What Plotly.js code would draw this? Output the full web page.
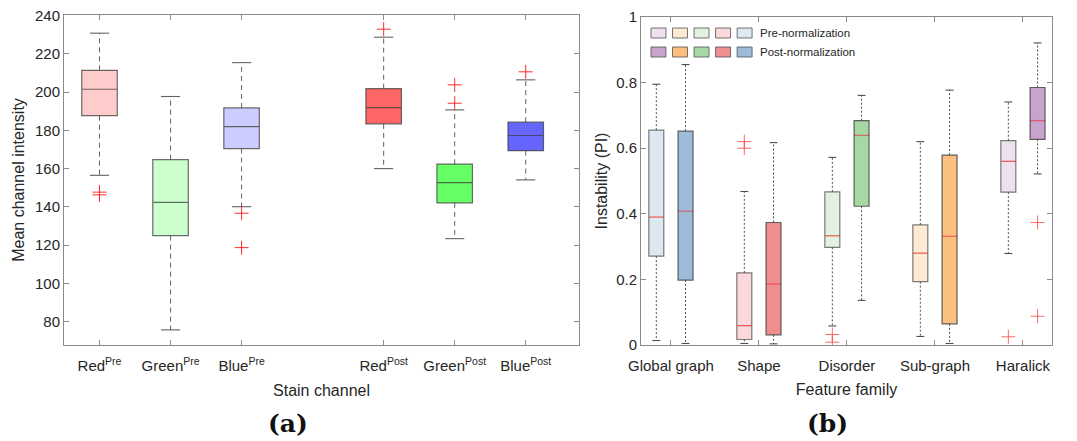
<!DOCTYPE html>
<html>
<head>
<meta charset="utf-8">
<script src="https://cdn.plot.ly/plotly-3.0.1.min.js"></script>
<style>html,body{margin:0;padding:0;background:#fff;}#chart{width:1077px;height:441px;}</style>
</head>
<body>
<div id="chart"></div>
<script>
// ---------- Panel (a): stain channel intensities ----------
const leftCats = ['Red<sup>Pre</sup>','Green<sup>Pre</sup>','Blue<sup>Pre</sup>','Red<sup>Post</sup>','Green<sup>Post</sup>','Blue<sup>Post</sup>'];
const leftPos = [1, 2, 3, 5, 6, 7];
const leftUpper = [230.8, 197.7, 215.4, 228.7, 190.7, 206.4];
const leftQ3    = [211.4, 164.7, 191.7, 201.8, 162.3, 184.3];
const leftMed   = [201.5, 142.4, 182.0, 191.9, 152.7, 177.3];
const leftQ1    = [187.7, 125.0, 170.5, 183.4, 142.1, 169.4];
const leftLower = [156.5, 75.7, 140.1, 160.0, 123.4, 154.1];
const leftOutliers = [[147.7, 146.3], [], [136.7, 118.7], [232.9], [203.8, 194.2], [210.6]];
const leftColors = ['#ffcccc', '#ccffcc', '#ccccff', '#ff6666', '#66ff66', '#6666ff'];

// ---------- Panel (b): feature instability ----------
const rightCats = ['Global graph', 'Shape', 'Disorder', 'Sub-graph', 'Haralick'];
const rightPos = [1, 2, 3, 4, 5];
const preUpper = [0.795, 0.468, 0.572, 0.620, 0.741];
const preQ3    = [0.655, 0.220, 0.467, 0.3665, 0.623];
const preMed   = [0.390, 0.059, 0.333, 0.280, 0.560];
const preQ1    = [0.271, 0.0167, 0.2975, 0.193, 0.466];
const preLower = [0.0137, 0.0046, 0.058, 0.026, 0.279];
const preOutliers = [[], [0.620, 0.600], [0.032, 0.0085], [], [0.025]];
const postUpper = [0.855, 0.617, 0.761, 0.777, 0.921];
const postQ3    = [0.652, 0.3735, 0.684, 0.579, 0.785];
const postMed   = [0.408, 0.186, 0.639, 0.331, 0.684];
const postQ1    = [0.198, 0.031, 0.423, 0.0645, 0.627];
const postLower = [0.0046, 0.0035, 0.136, 0.0046, 0.5216];
const postOutliers = [[], [], [], [], [0.3735, 0.0876]];
const preColors  = ['#dde8f2', '#fad8db', '#e3f2e0', '#fdead3', '#eee0ee'];
const postColors = ['#9dbcd9', '#ef8e8e', '#a7d7a2', '#fdbf80', '#c9a2cd'];
// legend order (as in the figure): Haralick, Sub-graph, Disorder, Shape, Global graph
const legendOrder = [4, 3, 2, 1, 0];
const legendLabels = ['Pre-normalization', 'Post-normalization'];

const FONT = 'Liberation Sans, Arial, Helvetica, sans-serif';
const TXT = '#262626';
const AX = '#8a8a8a';

const traces = [];

function addBoxes(pos, q1, med, q3, colors, width, lineColor, xa, ya) {
  pos.forEach((p, i) => {
    traces.push({
      type: 'box', x: [p], q1: [q1[i]], median: [med[i]], q3: [q3[i]],
      lowerfence: [q1[i]], upperfence: [q3[i]],
      width: width, whiskerwidth: 0, fillcolor: colors[i],
      line: {color: lineColor, width: 1.2},
      xaxis: xa, yaxis: ya, hoverinfo: 'skip', showlegend: false
    });
  });
}
function addWhiskers(pos, q1, q3, lower, upper, capHalf, dash, color, xa, ya) {
  const wx = [], wy = [], cx = [], cy = [];
  pos.forEach((p, i) => {
    wx.push(p, p, null, p, p, null);
    wy.push(q3[i], upper[i], null, q1[i], lower[i], null);
    cx.push(p - capHalf, p + capHalf, null, p - capHalf, p + capHalf, null);
    cy.push(upper[i], upper[i], null, lower[i], lower[i], null);
  });
  traces.push({type: 'scatter', mode: 'lines', x: wx, y: wy, line: {color: color, width: 1, dash: dash},
    xaxis: xa, yaxis: ya, hoverinfo: 'skip', showlegend: false});
  traces.push({type: 'scatter', mode: 'lines', x: cx, y: cy, line: {color: color, width: 1.1},
    xaxis: xa, yaxis: ya, hoverinfo: 'skip', showlegend: false});
}
function addMedians(pos, med, half, colors, redColor, xa, ya) {
  // first cover the box's own grey median with the fill colour, then the red line
  pos.forEach((p, i) => {
    traces.push({type: 'scatter', mode: 'lines', x: [p - half * 0.92, p + half * 0.92], y: [med[i], med[i]],
      line: {color: colors[i], width: 2.4}, xaxis: xa, yaxis: ya, hoverinfo: 'skip', showlegend: false});
  });
  const mx = [], my = [];
  pos.forEach((p, i) => { mx.push(p - half, p + half, null); my.push(med[i], med[i], null); });
  traces.push({type: 'scatter', mode: 'lines', x: mx, y: my, line: {color: redColor, width: 1.2},
    xaxis: xa, yaxis: ya, hoverinfo: 'skip', showlegend: false});
}
function addOutliers(pos, outs, color, size, xa, ya) {
  const ox = [], oy = [];
  pos.forEach((p, i) => outs[i].forEach(v => { ox.push(p); oy.push(v); }));
  traces.push({type: 'scatter', mode: 'markers', x: ox, y: oy,
    marker: {symbol: 'cross-thin-open', size: size, color: color, line: {color: color, width: 1}},
    xaxis: xa, yaxis: ya, hoverinfo: 'skip', showlegend: false});
}

// panel (a)
addWhiskers(leftPos, leftQ1, leftQ3, leftLower, leftUpper, 0.135, '5px,4px', 'rgba(70,70,70,0.85)', 'x', 'y');
addBoxes(leftPos, leftQ1, leftMed, leftQ3, leftColors, 0.5, 'rgba(60,60,60,0.75)', 'x', 'y');
addOutliers(leftPos, leftOutliers, '#ff2a2a', 10, 'x', 'y');

// panel (b)
const off = 0.166;
const prePos = rightPos.map(p => p - off);
const postPos = rightPos.map(p => p + off);
addWhiskers(prePos, preQ1, preQ3, preLower, preUpper, 0.045, '2px,2px', 'rgba(60,60,60,0.9)', 'x2', 'y2');
addWhiskers(postPos, postQ1, postQ3, postLower, postUpper, 0.045, '2px,2px', 'rgba(60,60,60,0.9)', 'x2', 'y2');
addBoxes(prePos, preQ1, preMed, preQ3, preColors, 0.17, 'rgba(90,90,90,0.8)', 'x2', 'y2');
addBoxes(postPos, postQ1, postMed, postQ3, postColors, 0.17, 'rgba(70,70,70,0.85)', 'x2', 'y2');
addMedians(prePos, preMed, 0.08, preColors, 'rgba(245,60,60,0.85)', 'x2', 'y2');
addMedians(postPos, postMed, 0.08, postColors, 'rgba(240,40,60,0.6)', 'x2', 'y2');
addOutliers(prePos, preOutliers, 'rgba(255,70,70,0.8)', 10, 'x2', 'y2');
addOutliers(postPos, postOutliers, 'rgba(255,70,70,0.8)', 10, 'x2', 'y2');

// legend for panel (b) drawn as small patches in the axes domain
const shapes = [];
const annotations = [];
const sqW = 0.0364, sqStep = 0.0524, sqX0 = 0.0243;
const rows = [{y0: 0.936, y1: 0.9665, cols: preColors}, {y0: 0.878, y1: 0.9085, cols: postColors}];
rows.forEach((r, ri) => {
  legendOrder.forEach((ci, k) => {
    shapes.push({type: 'rect', xref: 'x2 domain', yref: 'y2 domain',
      x0: sqX0 + k * sqStep, x1: sqX0 + k * sqStep + sqW, y0: r.y0, y1: r.y1,
      fillcolor: r.cols[ci], line: {color: 'rgba(80,80,80,0.8)', width: 1}});
  });
  annotations.push({xref: 'x2 domain', yref: 'y2 domain', x: 0.284, y: (r.y0 + r.y1) / 2,
    xanchor: 'left', yanchor: 'middle', showarrow: false, text: legendLabels[ri],
    font: {family: FONT, size: 11.5, color: TXT}});
});

// captions
annotations.push({xref: 'paper', yref: 'paper', x: 288 / 1077, y: 1 - 423 / 441, xanchor: 'center', yanchor: 'middle',
  showarrow: false, text: '<b>(a)</b>', font: {family: 'DejaVu Serif, serif', size: 25, color: '#111'}});
annotations.push({xref: 'paper', yref: 'paper', x: 827 / 1077, y: 1 - 423 / 441, xanchor: 'center', yanchor: 'middle',
  showarrow: false, text: '<b>(b)</b>', font: {family: 'DejaVu Serif, serif', size: 25, color: '#111'}});

const axisCommon = {
  showline: true, linecolor: AX, linewidth: 1, mirror: 'ticks',
  ticks: 'inside', ticklen: 5, tickcolor: AX, tickwidth: 1,
  showgrid: false, zeroline: false, fixedrange: true,
  tickfont: {family: FONT, size: 15, color: TXT}
};

const layout = {
  width: 1077, height: 441,
  margin: {l: 0, r: 0, t: 0, b: 0},
  paper_bgcolor: '#fff', plot_bgcolor: '#fff',
  showlegend: false, boxmode: 'overlay',
  font: {family: FONT, color: TXT},
  xaxis: Object.assign({}, axisCommon, {
    domain: [64 / 1077, 579 / 1077], range: [0.5, 7.75],
    tickmode: 'array', tickvals: leftPos, ticktext: leftCats, ticklabelstandoff: 7,
    title: {text: 'Stain channel', font: {family: FONT, size: 16, color: TXT}, standoff: 11},
    anchor: 'y'
  }),
  yaxis: Object.assign({}, axisCommon, {
    domain: [1 - 345 / 441, 1 - 15 / 441], range: [67.8, 240.3],
    tickmode: 'array', tickvals: [80, 100, 120, 140, 160, 180, 200, 220, 240],
    title: {text: 'Mean channel intensity', font: {family: FONT, size: 16, color: TXT}, standoff: 6},
    anchor: 'x'
  }),
  xaxis2: Object.assign({}, axisCommon, {
    domain: [641 / 1077, 1052 / 1077], range: [0.66, 5.33],
    tickmode: 'array', tickvals: rightPos, ticktext: rightCats, ticklabelstandoff: 7,
    title: {text: 'Feature family', font: {family: FONT, size: 16, color: TXT}, standoff: 10},
    anchor: 'y2'
  }),
  yaxis2: Object.assign({}, axisCommon, {
    domain: [1 - 345 / 441, 1 - 17 / 441], range: [0, 1],
    tickmode: 'array', tickvals: [0, 0.2, 0.4, 0.6, 0.8, 1], ticktext: ['0', '0.2', '0.4', '0.6', '0.8', '1'],
    title: {text: 'Instability (PI)', font: {family: FONT, size: 16, color: TXT}, standoff: 4},
    anchor: 'x2'
  }),
  shapes: shapes,
  annotations: annotations
};

Plotly.newPlot('chart', traces, layout, {displayModeBar: false, staticPlot: true});
</script>
</body>
</html>
